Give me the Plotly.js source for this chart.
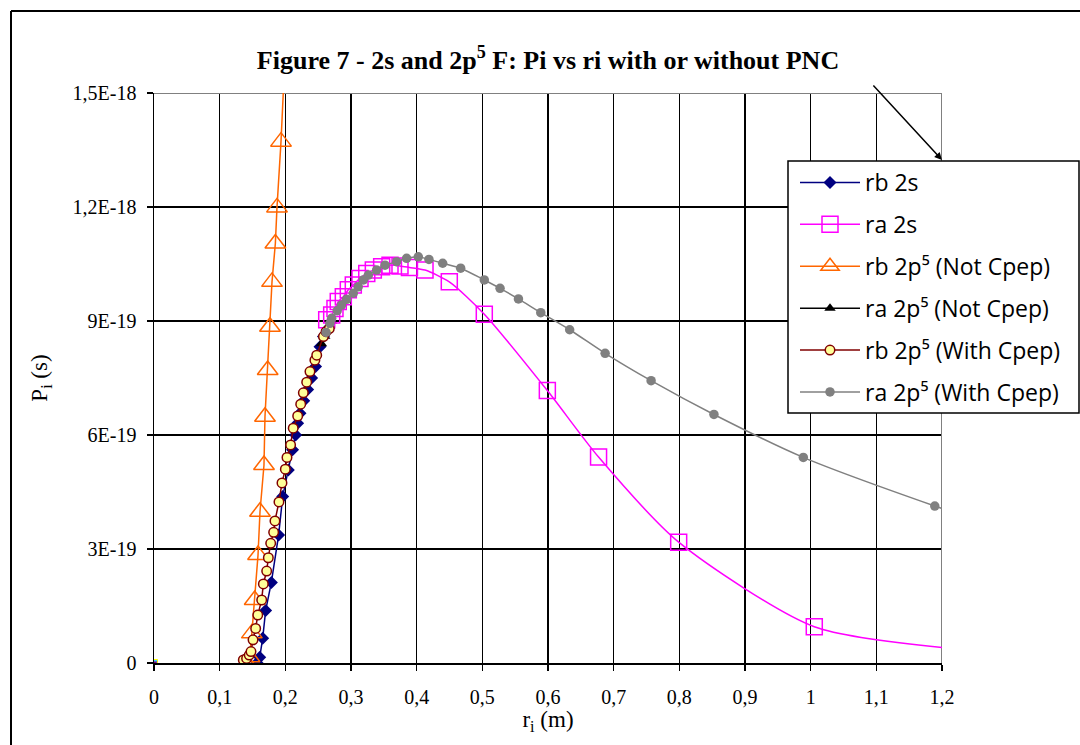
<!DOCTYPE html>
<html>
<head>
<meta charset="utf-8">
<script src="https://cdn.plot.ly/plotly-3.0.1.min.js"></script>
<style>
html,body{margin:0;padding:0;background:#fff;}
#chart{width:1080px;height:745px;}
</style>
</head>
<body>
<div id="chart"></div>
<script>
// ---- data (y values in units of 1E-19 s) ----
const rb2s_x = [0.157,0.161,0.1655,0.170,0.1787,0.1898,0.196,0.2045,0.211,0.2157,0.2187,0.2223,0.228,0.234,0.240,0.246,0.2528,0.258,0.2655];
const rb2s_y = [0.0,0.15,0.65,1.38,2.12,3.37,4.38,5.08,5.61,6.0,6.31,6.57,6.9,7.2,7.5,7.8,8.32,8.59,8.81];

const ra2s_x = [0.263,0.2706,0.2756,0.2806,0.2883,0.2959,0.3035,0.3137,0.324,0.334,0.3467,0.3594,0.3746,0.389,0.4127,0.4497,0.503,0.599,0.677,0.799,1.0055,1.25];
const ra2s_y = [9.03,9.16,9.33,9.51,9.64,9.82,9.95,10.12,10.25,10.34,10.43,10.47,10.45,10.41,10.34,10.03,9.18,7.17,5.42,3.18,0.955,0.33];

const rbNot_x = [0.141,0.1455,0.149,0.1533,0.1584,0.1614,0.1675,0.169,0.1731,0.1766,0.1797,0.1848,0.1873,0.1934,0.199];
const rbNot_y = [0.0,0.15,0.78,1.66,2.84,3.98,5.21,6.48,7.71,8.85,10.03,11.04,11.99,13.72,15.8];

const raNot_x = [0.255,0.26,0.265,0.27];
const raNot_y = [8.4,8.6,8.8,9.0];

const rbWith_x = [0.136,0.141,0.145,0.1477,0.1508,0.1548,0.158,0.164,0.1665,0.1716,0.1741,0.1777,0.1822,0.1842,0.1903,0.1949,0.2,0.2025,0.208,0.212,0.2188,0.2234,0.2274,0.2325,0.2375,0.245,0.2478,0.258,0.262,0.267];
const rbWith_y = [0.08,0.12,0.21,0.30,0.61,0.91,1.26,1.66,2.08,2.42,2.77,3.15,3.44,3.74,4.24,4.74,5.1,5.41,5.74,6.18,6.5,6.81,7.11,7.39,7.67,7.97,8.1,8.59,8.72,8.8];

const raWith_x = [0.262,0.268,0.2706,0.279,0.2855,0.2933,0.3035,0.311,0.3188,0.3265,0.339,0.3518,0.3695,0.3847,0.4025,0.4187,0.4396,0.467,0.503,0.527,0.555,0.589,0.633,0.687,0.757,0.8527,0.9888,1.189,1.25];
const raWith_y = [8.7,8.94,9.07,9.27,9.42,9.57,9.73,9.9,10.08,10.21,10.34,10.47,10.56,10.65,10.69,10.62,10.52,10.39,10.08,9.86,9.58,9.22,8.77,8.15,7.43,6.54,5.41,4.13,3.78];

const names = ['rb 2s','ra 2s','rb 2p\u2075 (Not Cpep)','ra 2p\u2075 (Not Cpep)','rb 2p\u2075 (With Cpep)','ra 2p\u2075 (With Cpep)'];

const xTickVals = [0,0.1,0.2,0.3,0.4,0.5,0.6,0.7,0.8,0.9,1,1.1,1.2];
const xTickText = ['0','0,1','0,2','0,3','0,4','0,5','0,6','0,7','0,8','0,9','1','1,1','1,2'];
const yTickVals = [0,3e-19,6e-19,9e-19,1.2e-18,1.5e-18];
const yTickText = ['0','3E-19','6E-19','9E-19','1,2E-18','1,5E-18'];

const sc = v => v.map(a => a*1e-19);

const traces = [
  {x: rb2s_x, y: sc(rb2s_y), name: names[0], legendgroup:'g1', legendrank:1, mode:'lines+markers',
   line:{color:'#000080', width:1.5}, marker:{symbol:'diamond', size:10, color:'#000080'}},
  {x: raNot_x, y: sc(raNot_y), name: names[3], legendgroup:'g4', legendrank:4, mode:'lines+markers',
   line:{color:'#000000', width:1.5}, marker:{symbol:'triangle-up', size:10, color:'#000000'}},
  {x: ra2s_x, y: sc(ra2s_y), name: names[1], legendgroup:'g2', legendrank:2, mode:'lines+markers',
   line:{color:'#FF00FF', width:1.5, shape:'spline', smoothing:0.7},
   marker:{symbol:'square-open', size:16, color:'#FF00FF', line:{width:1.5, color:'#FF00FF'}}},
  {x: rbNot_x, y: sc(rbNot_y), name: names[2], legendgroup:'g3', legendrank:3, mode:'lines+markers',
   line:{color:'#FF6600', width:1.5},
   marker:{symbol:'triangle-up-open', size:18, color:'#FF6600', line:{width:1.5, color:'#FF6600'}}},
  {x: rbWith_x, y: sc(rbWith_y), name: names[4], legendgroup:'g5', legendrank:5, mode:'lines+markers',
   line:{color:'#800000', width:1.5},
   marker:{symbol:'circle', size:9.5, color:'#FFFF99', line:{width:1.5, color:'#800000'}}},
  {x: raWith_x, y: sc(raWith_y), name: names[5], legendgroup:'g6', legendrank:6, mode:'lines+markers',
   line:{color:'#808080', width:1.5, shape:'spline', smoothing:0.7},
   marker:{symbol:'circle', size:9.5, color:'#808080'}},
  {x:[0], y:[0], mode:'markers', showlegend:false, hoverinfo:'skip',
   marker:{symbol:'square', size:7, color:'#33CCFF', line:{width:1, color:'#FFFF00'}}},
  {x:[0], y:[0], mode:'markers', showlegend:false, hoverinfo:'skip',
   marker:{symbol:'triangle-down', size:6, color:'#800080'}}
];

const serif = '"Liberation Serif","Times New Roman",serif';
const axisFont = {family:serif, size:20, color:'#000'};
const px2x = p => (p-154)/788;
const px2y = p => (663-p)/570;

const layout = {
  width:1080, height:745,
  margin:{l:154, r:138, t:93, b:82, autoexpand:false},
  paper_bgcolor:'#fff', plot_bgcolor:'#fff',
  title:{text:'<b>Figure 7 - 2s and 2p<sup>5</sup> F: Pi vs ri with or without PNC</b>',
         font:{family:serif, size:26, color:'#000'},
         x:0.5, xref:'paper', xanchor:'center', y:1-60/745, yref:'container', yanchor:'middle'},
  xaxis:{range:[0,1.2], tickvals:xTickVals, ticktext:xTickText, tickfont:axisFont,
         showgrid:true, gridcolor:'#000', gridwidth:1.5, zeroline:false,
         showline:true, linecolor:'#000', linewidth:1.5,
         ticks:'outside', ticklen:6, tickwidth:1.5, tickcolor:'#000', ticklabelstandoff:9,
         title:{text:'r<sub>i</sub> (m)', font:{family:serif, size:23, color:'#000'}, standoff:2},
         fixedrange:true},
  yaxis:{range:[0,1.5e-18], tickvals:yTickVals, ticktext:yTickText, tickfont:axisFont,
         showgrid:true, gridcolor:'#000', gridwidth:1.5, zeroline:false,
         showline:true, linecolor:'#000', linewidth:1.5,
         ticks:'outside', ticklen:6, tickwidth:1.5, tickcolor:'#000', ticklabelstandoff:6,
         title:{text:'P<sub>i</sub> (s)', font:{family:serif, size:23, color:'#000'}, standoff:18},
         fixedrange:true},
  legend:{x:px2x(795), y:px2y(161), xanchor:'left', yanchor:'top',
          bgcolor:'rgba(0,0,0,0)', borderwidth:0,
          font:{family:'"Open Sans", Lato, sans-serif', size:23, color:'#000'},
          traceorder:'grouped', tracegroupgap:9, itemwidth:60},
  shapes:[
    {type:'line', xref:'x', yref:'y', x0:0, x1:1.2, y0:1.5e-18, y1:1.5e-18, layer:'between', line:{color:'#808080', width:2}},
    {type:'line', xref:'x', yref:'y', x0:1.2, x1:1.2, y0:0, y1:1.5e-18, layer:'between', line:{color:'#808080', width:2}},
    {type:'rect', xref:'paper', yref:'paper', x0:px2x(788), x1:px2x(1079), y0:px2y(413), y1:px2y(161), layer:'above',
     fillcolor:'#fff', line:{color:'#000', width:1.5}},
    {type:'line', xref:'paper', yref:'paper', x0:px2x(11), x1:px2x(11), y0:px2y(11), y1:px2y(760), line:{color:'#000', width:2}},
    {type:'line', xref:'paper', yref:'paper', x0:px2x(11), x1:px2x(1090), y0:px2y(11), y1:px2y(11), line:{color:'#000', width:2}}
  ],
  annotations:[
    {x:1.2, y:(663-160)/380*1e-18, xref:'x', yref:'y', ax:-70, ay:-76, axref:'pixel', ayref:'pixel',
     showarrow:true, arrowhead:2, arrowsize:1, arrowwidth:1.5, arrowcolor:'#000', text:''}
  ],
  showlegend:true
};

Plotly.newPlot('chart', traces, layout, {staticPlot:true, displayModeBar:false});
</script>
</body>
</html>
